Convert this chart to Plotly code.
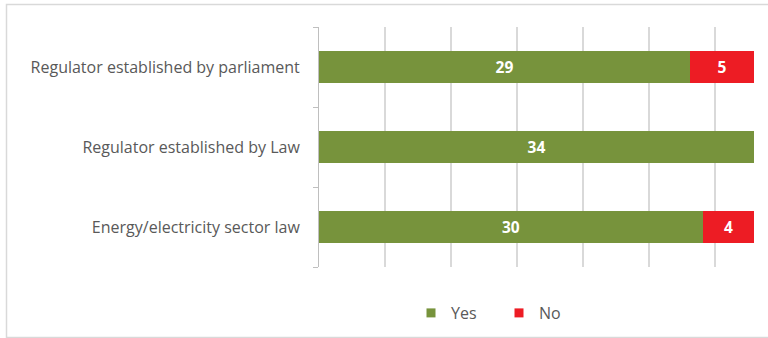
import plotly.graph_objects as go

categories = ["Energy/electricity sector law", "Regulator established by Law", "Regulator established by parliament"]
yes_values = [30, 34, 29]
no_values = [4, 0, 5]

GREEN = "#77933C"
RED = "#ED1C24"
GRAY_TXT = "#595959"
GRID = "#d9d9d9"
FONT = "Open Sans"

fig = go.Figure()
fig.add_trace(go.Bar(
    y=categories, x=yes_values, orientation="h", name="Yes",
    marker=dict(color=GREEN, line=dict(width=0)),
    text=[str(v) if v else "" for v in yes_values],
    textposition="inside", insidetextanchor="middle", textangle=0,
    constraintext="none",
    textfont=dict(color="white", size=15.5, family=FONT, weight="bold"),
    showlegend=False, hoverinfo="skip",
))
fig.add_trace(go.Bar(
    y=categories, x=no_values, orientation="h", name="No",
    marker=dict(color=RED, line=dict(width=0)),
    text=[str(v) if v else "" for v in no_values],
    textposition="inside", insidetextanchor="middle", textangle=0,
    constraintext="none",
    textfont=dict(color="white", size=15.5, family=FONT, weight="bold"),
    showlegend=False, hoverinfo="skip",
))
# legend entries
for name, col in [("Yes", GREEN), ("No", RED)]:
    fig.add_trace(go.Scatter(
        x=[None], y=[None], mode="markers", name=name,
        marker=dict(symbol="square", size=9, color=col),
    ))

W, H = 768, 338
L, R, T, B = 319, 14, 27, 71
pw = W - L - R
ph = H - T - B

def px_x(x):
    return (x - L) / pw

def px_y(y):
    return (H - B - y) / ph

fig.update_layout(
    width=W, height=H,
    margin=dict(l=L, r=R, t=T, b=B, autoexpand=False),
    barmode="stack", bargap=0.6,
    plot_bgcolor="white", paper_bgcolor="white",
    font=dict(family=FONT, size=16, color=GRAY_TXT),
    xaxis=dict(
        range=[0, 34], dtick=5.16, tick0=0, showticklabels=False,
        showgrid=True, gridcolor=GRID, gridwidth=1.5,
        zeroline=False, showline=False, fixedrange=True,
    ),
    yaxis=dict(
        categoryorder="array", categoryarray=categories,
        showline=True, linecolor="#bfbfbf", linewidth=1,
        ticks="outside", ticklen=5, tickcolor="#bfbfbf", tickson="boundaries",
        ticklabelstandoff=15,
        tickfont=dict(family=FONT, size=16, color=GRAY_TXT),
        showgrid=False, zeroline=False, fixedrange=True,
    ),
    legend=dict(
        orientation="h", traceorder="normal",
        xref="container", yref="container",
        x=411 / W, xanchor="left",
        y=(H - 313) / H, yanchor="middle",
        font=dict(family=FONT, size=16, color=GRAY_TXT),
        entrywidth=43, entrywidthmode="pixels",
        bgcolor="rgba(0,0,0,0)",
    ),
    shapes=[dict(
        type="rect", xref="paper", yref="paper",
        x0=px_x(6.5), x1=px_x(775), y0=px_y(337.5), y1=px_y(4.5),
        line=dict(color=GRID, width=1.5), fillcolor="rgba(0,0,0,0)", layer="below",
    )],
)

fig.write_html("out.html")
